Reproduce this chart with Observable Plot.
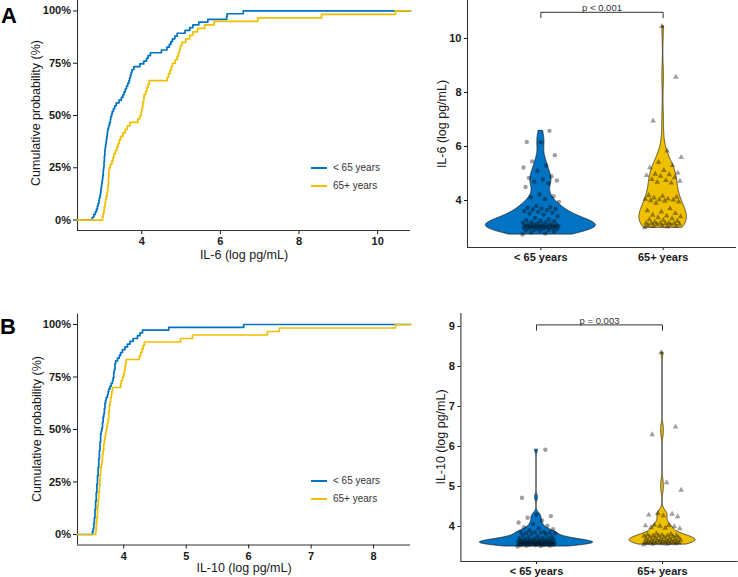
<!DOCTYPE html>
<html><head><meta charset="utf-8">
<script src="https://cdn.jsdelivr.net/npm/d3@7"></script>
<script src="https://cdn.jsdelivr.net/npm/@observablehq/plot@0.6"></script>
<style>
body{margin:0;background:#fff;}
#wrap{position:relative;width:738px;height:577px;overflow:hidden;background:#fff;font-family:"Liberation Sans",Arial,Helvetica,sans-serif;}
.t{position:absolute;white-space:nowrap;line-height:1;}
</style></head><body><div id="wrap"></div>
<script>
const groups = ["< 65 years", "65+ years"];
const groupColors = ["#0073C2", "#EFC000"];
const il6Young = [2.74,2.78,2.82,2.85,2.87,2.89,2.91,2.92,2.94,2.95,
2.96,2.97,2.98,2.99,3.00,3.01,3.02,3.02,3.03,3.04,
3.04,3.05,3.05,3.06,3.06,3.07,3.08,3.09,3.10,3.11,
3.12,3.13,3.14,3.16,3.18,3.20,3.21,3.23,3.25,3.28,
3.31,3.35,3.42,3.48,3.52,3.55,3.58,3.61,3.64,3.67,
3.69,3.71,3.73,3.75,3.80,3.95,4.05,4.12,4.16,4.22,
4.50,4.64,4.70,4.74,4.78,4.84,4.90,5.10,5.22,5.30,
5.45,5.68,6.16,6.17,6.58];
const il6Old = [3.00,3.02,3.04,3.05,3.07,3.08,3.10,3.12,3.13,3.14,
3.15,3.15,3.16,3.16,3.17,3.20,3.24,3.27,3.29,3.33,
3.37,3.40,3.43,3.46,3.52,3.58,3.63,3.70,3.90,3.95,
3.98,4.00,4.02,4.03,4.05,4.06,4.10,4.13,4.16,4.19,
4.65,4.68,4.72,4.75,4.78,4.85,4.90,4.93,4.96,4.98,
5.02,5.12,5.22,5.30,5.42,5.60,5.84,6.95,8.57,10.45];
const il10Young = [3.50,3.51,3.52,3.52,3.53,3.53,3.54,3.54,3.54,3.55,
3.55,3.55,3.56,3.56,3.56,3.57,3.57,3.57,3.58,3.58,
3.58,3.59,3.59,3.59,3.60,3.60,3.60,3.61,3.61,3.61,
3.62,3.62,3.62,3.63,3.63,3.63,3.64,3.65,3.66,3.66,
3.67,3.67,3.68,3.69,3.69,3.70,3.70,3.71,3.72,3.74,
3.75,3.76,3.78,3.80,3.82,3.83,3.84,3.84,3.85,3.86,
3.86,3.87,3.90,3.93,3.95,3.98,4.02,4.06,4.10,4.15,
4.22,4.26,4.30,4.72,5.92];
const il10Old = [3.55,3.56,3.56,3.57,3.57,3.58,3.58,3.58,3.59,3.59,
3.60,3.60,3.61,3.61,3.62,3.62,3.62,3.63,3.63,3.64,
3.65,3.66,3.66,3.67,3.68,3.68,3.69,3.70,3.71,3.72,
3.73,3.74,3.75,3.76,3.76,3.77,3.77,3.78,3.79,3.80,
3.81,3.82,3.95,3.96,3.98,4.00,4.01,4.02,4.03,4.04,
4.25,4.27,4.29,4.31,4.33,4.91,5.10,6.30,6.49,8.35];
const il6EcdfTicks = [4, 6, 8, 10];
const il10EcdfTicks = [4, 5, 6, 7, 8];
const probTicks = [0, 0.25, 0.5, 0.75, 1];
const il6ViolinTicks = [4, 6, 8, 10];
const il10ViolinTicks = [4, 5, 6, 7, 8, 9];
const pLabels = ["p < 0.001", "p = 0.003"];
const bracketY = [10.97, 9.04];
const panelLetters = ["A", "B"];
const xTitles = ["IL-6 (log pg/mL)", "IL-10 (log pg/mL)"];
const yTitleEcdf = "Cumulative probability (%)";

const wrap = document.getElementById("wrap");
const baseStyle = {fontFamily: '"Liberation Sans", Arial, Helvetica, sans-serif', fontSize: "11px", fontWeight: "bold", color: "#1a1a1a", background: "transparent", overflow: "visible"};
const intFmt = d => String(d);

function place(el, left, top) {
  el.style.position = "absolute"; el.style.left = left + "px"; el.style.top = top + "px";
  wrap.appendChild(el);
}
function addText(str, cx, cy, o = {}) {
  const el = document.createElement("div");
  el.className = "t"; el.textContent = str;
  el.style.left = cx + "px"; el.style.top = cy + "px";
  el.style.fontSize = (o.size || 12) + "px";
  el.style.fontWeight = o.weight || "normal";
  el.style.color = o.color || "#1a1a1a";
  const tx = o.anchor === "start" ? "0" : "-50%";
  el.style.transform = `translate(${tx},-50%)` + (o.rotate ? ` rotate(${o.rotate}deg)` : "");
  wrap.appendChild(el);
}
function addLegend(x, ys) {
  groups.forEach((g, i) => {
    const ln = document.createElement("div");
    ln.style.cssText = `position:absolute;left:${x}px;top:${ys[i] - 0.8}px;width:16px;height:1.7px;background:${groupColors[i]}`;
    wrap.appendChild(ln);
    addText(g, x + 22, ys[i], {size: 10, color: "#333", anchor: "start"});
  });
}

function ecdfRows(values, lo, hi) {
  const v = values.slice().sort((a, b) => a - b), n = v.length;
  const rows = [{x: lo, p: 0}];
  v.forEach((d, i) => rows.push({x: d, p: (i + 1) / n}));
  rows.push({x: hi, p: 1});
  return rows;
}
function ecdfPanel(series, xDomain, xTicks, w, h, m) {
  return Plot.plot({
    width: w, height: h, ...m, style: baseStyle,
    x: {domain: xDomain, ticks: xTicks, tickFormat: intFmt, tickSize: 4, tickPadding: 3, label: null},
    y: {domain: [-0.05, 1.05], ticks: probTicks, tickFormat: d => Math.round(d * 100) + "%", tickSize: 4, tickPadding: 2.5, label: null},
    marks: [
      Plot.ruleX([xDomain[0]], {stroke: "#333", strokeWidth: 1.1}),
      Plot.ruleY([-0.05], {stroke: "#333", strokeWidth: 1.1}),
      ...series.map((s, i) => Plot.line(ecdfRows(s, xDomain[0], xDomain[1]), {x: "x", y: "p", stroke: groupColors[i], strokeWidth: 1.7, curve: "step-after"}))
    ]
  });
}

function bwNrd0(v) {
  const s = d3.deviation(v);
  const q = (d3.quantile(v, 0.75) - d3.quantile(v, 0.25)) / 1.34;
  let lo = Math.min(s, q); if (!(lo > 0)) lo = s || 1;
  return 0.9 * lo * Math.pow(v.length, -0.2);
}
function kde(v) {
  const bw = bwNrd0(v), lo = d3.min(v), hi = d3.max(v), out = [];
  for (let k = 0; k < 512; k++) {
    const y = lo + (hi - lo) * k / 511; let s = 0;
    for (const xi of v) { const u = (y - xi) / bw; s += Math.exp(-0.5 * u * u); }
    out.push({y, d: s / (v.length * bw * Math.sqrt(2 * Math.PI))});
  }
  return out;
}
function violinPanel(series, yDomain, yTicks, pLabel, bY, w, h, m) {
  // width proportional to density scaled by group size (ggplot scale = "count")
  const nMax = d3.max(series, s => s.length);
  const dens = series.map(s => kde(s).map(r => ({y: r.y, d: r.d * s.length / nMax})));
  const maxD = d3.max(dens.flat(), d => d.d);
  const marks = [
    Plot.ruleX([0.4], {stroke: "#333", strokeWidth: 1.1}),
    Plot.ruleY([yDomain[0]], {stroke: "#333", strokeWidth: 1.1})
  ];
  series.forEach((s, g) => {
    const rows = dens[g].map(r => ({y: r.y, x1: g + 1 - 0.45 * r.d / maxD, x2: g + 1 + 0.45 * r.d / maxD}));
    marks.push(Plot.areaX(rows, {y: "y", x1: "x1", x2: "x2", fill: groupColors[g], stroke: "#1a1a1a", strokeWidth: 0.7}));
  });
  series.forEach((s, g) => {
    const pts = s.map((v, i) => ({x: g + 1 + (((i * 0.6180339887) % 1) - 0.5) * 0.3, y: v}));
    marks.push(Plot.dot(pts, {x: "x", y: "y", r: g === 0 ? 2.2 : 2.1, symbol: g === 0 ? "circle" : "triangle", fill: "black", fillOpacity: 0.38, stroke: "none"}));
  });
  const leg = (yDomain[1] - yDomain[0]) * 0.022;
  marks.push(Plot.line([{x: 1, y: bY - leg}, {x: 1, y: bY}, {x: 2, y: bY}, {x: 2, y: bY - leg}], {x: "x", y: "y", stroke: "#333", strokeWidth: 1}));
  marks.push(Plot.text([{x: 1.5, y: bY, t: pLabel}], {x: "x", y: "y", text: "t", dy: -1, lineAnchor: "bottom", fontSize: 9.5, fontWeight: "normal", fill: "#333"}));
  return Plot.plot({
    width: w, height: h, ...m, style: baseStyle,
    x: {domain: [0.4, 2.6], ticks: [1, 2], tickFormat: d => groups[Math.round(d) - 1], tickSize: 3, tickPadding: 3, label: null},
    y: {domain: yDomain, ticks: yTicks, tickFormat: intFmt, tickSize: 3, tickPadding: 3, label: null},
    marks
  });
}

// Panel A
place(ecdfPanel([il6Young, il6Old], [2.365, 10.835], il6EcdfTicks, 412, 268, {marginLeft: 77, marginRight: 2, marginTop: 0, marginBottom: 38}), 0, 0);
place(violinPanel([il6Young, il6Old], [2.26, 11.407], il6ViolinTicks, pLabels[0], bracketY[0], 318, 268, {marginLeft: 47, marginRight: 2, marginTop: 0, marginBottom: 21}), 420, 0);
// Panel B
place(ecdfPanel([il10Young, il10Old], [3.26, 8.59], il10EcdfTicks, 412, 277, {marginLeft: 77, marginRight: 2, marginTop: 13.5, marginBottom: 32.5}), 0, 300);
place(violinPanel([il10Young, il10Old], [3.125, 9.325], il10ViolinTicks, pLabels[1], bracketY[1], 318, 277, {marginLeft: 40.4, marginRight: 0.4, marginTop: 13, marginBottom: 16}), 420, 300);

// Titles and labels
addText(panelLetters[0], 9, 16, {size: 22, weight: "bold", color: "#000"});
addText(panelLetters[1], 8, 327, {size: 22, weight: "bold", color: "#000"});
addText(yTitleEcdf, 36, 112.5, {size: 12.5, rotate: -90});
addText(yTitleEcdf, 36.5, 429, {size: 12.5, rotate: -90});
addText(xTitles[0], 244, 255, {size: 12.5});
addText(xTitles[1], 244, 568, {size: 12.5});
addText(xTitles[0], 442, 123.5, {size: 12.5, rotate: -90});
addText(xTitles[1], 441, 437, {size: 12.5, rotate: -90});
addLegend(311, [168, 186]);
addLegend(311, [481, 499]);
</script></body></html>
